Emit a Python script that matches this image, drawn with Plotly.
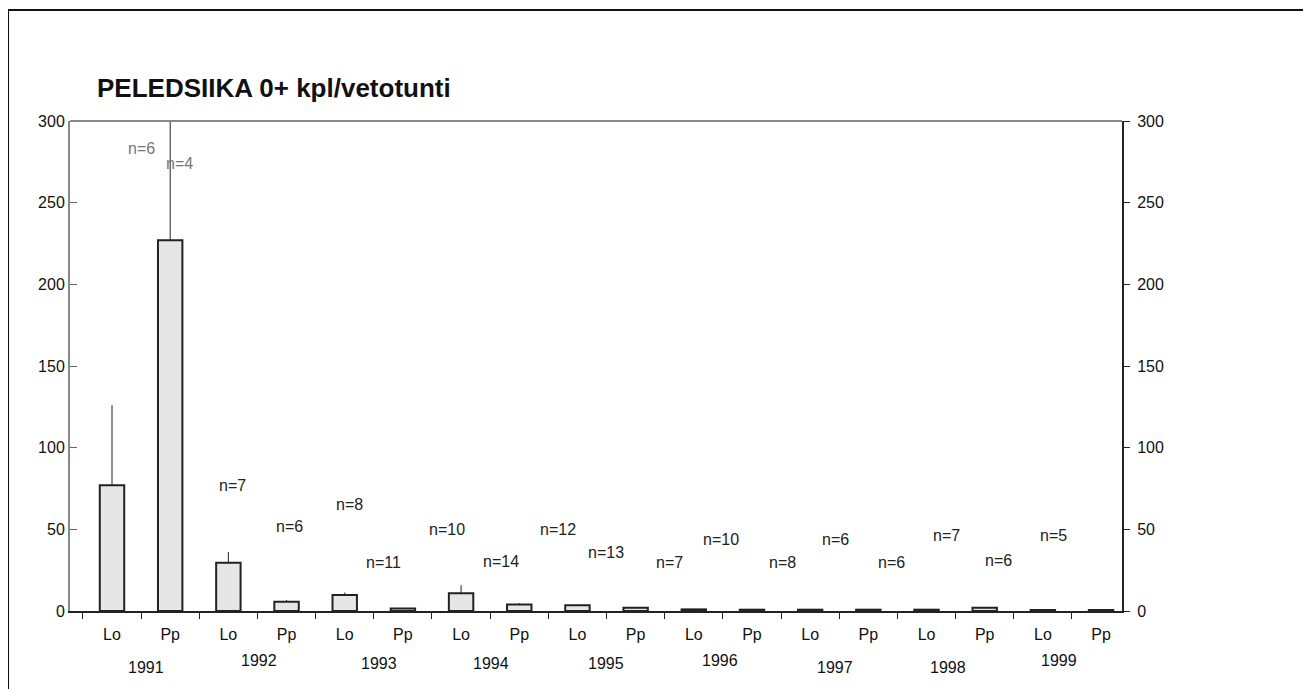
import plotly.graph_objects as go

# ---- data ----
years = ["1991", "1992", "1993", "1994", "1995", "1996", "1997", "1998", "1999"]
sites = ["Lo", "Pp"]
values = [77, 227, 29.6, 5.7, 9.8, 1.5, 10.8, 4.0, 3.5, 2.0,
          1.0, 0.8, 0.8, 0.8, 0.8, 2.0, 0.6, 0.6]
err_up = [49, 77, 6.5, 1.0, 1.5, 0.3, 5.0, 0.8, 0.5, 0.4,
          0.3, 0.3, 0.3, 0.3, 0.3, 0.5, 0.2, 0.2]
n_labels = ["n=6", "n=4", "n=7", "n=6", "n=8", "n=11", "n=10", "n=14", "n=12",
            "n=13", "n=7", "n=10", "n=8", "n=6", "n=6", "n=7", "n=6", "n=5"]
y_ticks = [0, 50, 100, 150, 200, 250, 300]

# label placement (category index / y value)
n_label_x = [0.5, 1.16, 2.07, 3.05, 4.08, 4.66, 5.75, 6.68, 7.67,
             8.49, 9.59, 10.46, 11.52, 12.43, 13.4, 14.35, 15.24, 16.18]
n_label_y = [283, 274, 77, 52, 65, 30, 49.6, 30.6, 49.6,
             36, 30, 43.5, 30, 43.5, 30, 46.5, 31, 46.5]
year_label_x = [0.58, 2.53, 4.59, 6.51, 8.49, 10.45, 12.43, 14.37, 16.28]
year_label_y = [-0.116, -0.1, -0.108, -0.108, -0.108, -0.1, -0.116, -0.116, -0.1]

cats = [f"{s} {y}" for y in years for s in sites]
tick_text = [s for y in years for s in sites]

fig = go.Figure()
fig.add_trace(go.Bar(
    x=cats, y=values,
    marker=dict(color="#e6e6e6", line=dict(color="#222222", width=2)),
    error_y=dict(type="data", array=err_up, arrayminus=[0] * len(err_up),
                 symmetric=False, color="#222222", thickness=1, width=0),
    showlegend=False, hoverinfo="x+y",
))
# invisible trace to carry the right-hand axis
fig.add_trace(go.Scatter(x=[cats[0]], y=[0], yaxis="y2", mode="markers",
                         marker=dict(opacity=0), showlegend=False, hoverinfo="skip"))

font = "Liberation Sans, Arial, sans-serif"

for i, t in enumerate(n_labels):
    fig.add_annotation(x=n_label_x[i], y=n_label_y[i], xref="x", yref="y",
                       text=t, showarrow=False, yanchor="middle",
                       font=dict(family=font, size=16,
                                 color="#777777" if i < 2 else "#222222"))
for i, y in enumerate(years):
    fig.add_annotation(x=year_label_x[i], y=year_label_y[i], xref="x", yref="paper",
                       text=y, showarrow=False, yanchor="middle",
                       font=dict(family=font, size=16, color="#111111"))

fig.add_annotation(x=0.024, y=1.067, xref="paper", yref="paper", xanchor="left",
                   yanchor="middle",
                   text="<b>PELEDSIIKA 0+ kpl/vetotunti</b>", showarrow=False,
                   font=dict(family=font, size=26, color="#111111"))

# scan frame
fig.add_shape(type="line", xref="paper", yref="paper", x0=-0.062, x1=1.18,
              y0=1.2265, y1=1.2265, line=dict(color="#111111", width=2))
fig.add_shape(type="line", xref="paper", yref="paper", x0=-0.0589, x1=-0.0589,
              y0=1.2265, y1=-0.16, line=dict(color="#111111", width=2))
# top border of plot area
fig.add_shape(type="line", xref="paper", yref="paper", x0=0, x1=1,
              y0=1, y1=1, line=dict(color="#888888", width=2))

fig.update_layout(
    width=1303, height=681,
    margin=dict(l=62, r=189, t=113, b=78),
    paper_bgcolor="white", plot_bgcolor="white",
    bargap=0.58,
    font=dict(family=font, size=16, color="#111111"),
    xaxis=dict(type="category", categoryorder="array", categoryarray=cats,
               tickvals=cats, ticktext=tick_text, tickson="boundaries",
               ticks="outside", ticklen=6, tickcolor="#222222",
               ticklabelstandoff=8,
               showline=True, linecolor="#222222", linewidth=2,
               showgrid=False, zeroline=False,
               tickfont=dict(family=font, size=16), range=[-0.722, 17.36]),
    yaxis=dict(range=[0, 300], tickvals=y_ticks, ticks="inside", ticklen=7,
               tickcolor="#666666", showline=True, linecolor="#888888", linewidth=2,
               showgrid=False, zeroline=False,
               tickfont=dict(family=font, size=16)),
    yaxis2=dict(range=[0, 300], tickvals=y_ticks, overlaying="y", side="right",
                ticks="outside", ticklen=6, tickcolor="#222222",
                ticklabelstandoff=4,
                showline=True, linecolor="#222222", linewidth=2,
                showgrid=False, zeroline=False,
                tickfont=dict(family=font, size=16)),
)

fig.write_html("out.html")
